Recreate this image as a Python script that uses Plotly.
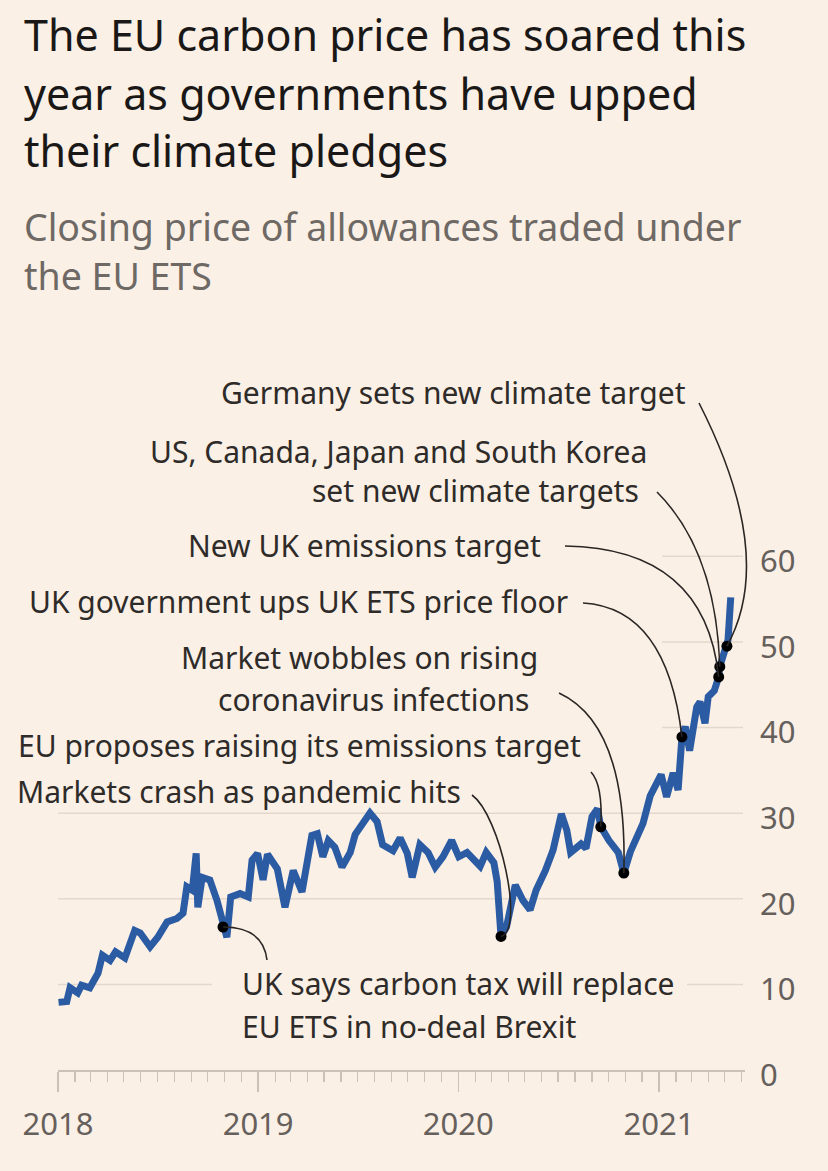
import plotly.graph_objects as go
import pandas as pd

# ---------------- data ----------------
dates = [
    "2018-01-02", "2018-01-17", "2018-01-23", "2018-02-06", "2018-02-13", "2018-02-28",
    "2018-03-15", "2018-03-23", "2018-04-06", "2018-04-16", "2018-05-03", "2018-05-21",
    "2018-05-31", "2018-06-18", "2018-07-02", "2018-07-19", "2018-08-06", "2018-08-17",
    "2018-08-24", "2018-09-03", "2018-09-10", "2018-09-13", "2018-09-21", "2018-10-05",
    "2018-10-18", "2018-10-29", "2018-11-05", "2018-11-12", "2018-11-29", "2018-12-14",
    "2018-12-21", "2018-12-31", "2019-01-10", "2019-01-18", "2019-02-05", "2019-02-19",
    "2019-03-06", "2019-03-22", "2019-04-09", "2019-04-19", "2019-04-29", "2019-05-09",
    "2019-05-21", "2019-06-03", "2019-06-18", "2019-06-27", "2019-07-11", "2019-07-24",
    "2019-08-06", "2019-08-16", "2019-09-04", "2019-09-17", "2019-09-30", "2019-10-09",
    "2019-10-23", "2019-11-07", "2019-11-20", "2019-12-04", "2019-12-20", "2020-01-02",
    "2020-01-17", "2020-02-10", "2020-02-21", "2020-03-06", "2020-03-12", "2020-03-19",
    "2020-03-29", "2020-04-14", "2020-04-28", "2020-05-11", "2020-05-22", "2020-06-08",
    "2020-06-22", "2020-07-07", "2020-07-17", "2020-07-24", "2020-08-12", "2020-08-21",
    "2020-09-01", "2020-09-11", "2020-09-17", "2020-10-02", "2020-10-19", "2020-10-29",
    "2020-11-10", "2020-11-27", "2020-12-03", "2020-12-16", "2021-01-05", "2021-01-15",
    "2021-01-27", "2021-02-05", "2021-02-12", "2021-02-18", "2021-02-26", "2021-03-11",
    "2021-03-17", "2021-03-26", "2021-04-01", "2021-04-12", "2021-04-20", "2021-04-22",
    "2021-05-05", "2021-05-07", "2021-05-12",
]
prices = [
    7.9, 8.0, 9.6, 9.0, 9.9, 9.6,
    11.3, 13.4, 12.8, 13.8, 13.1, 16.3,
    16.0, 14.4, 15.5, 17.3, 17.7, 18.3,
    21.4, 21.0, 25.3, 19.0, 22.5, 22.2,
    19.8, 16.7, 15.5, 20.2, 20.6, 20.2,
    24.5, 25.3, 22.2, 25.2, 23.5, 19.0,
    23.3, 20.8, 27.4, 27.6, 24.9, 26.8,
    26.0, 23.7, 25.4, 27.5, 28.8, 30.0,
    29.0, 26.3, 25.6, 27.1, 25.3, 22.5,
    26.3, 25.4, 23.7, 24.9, 26.8, 24.9,
    25.4, 23.8, 25.4, 24.2, 22.0, 15.6,
    16.7, 21.6, 19.8, 18.7, 21.0, 23.3,
    25.7, 29.9, 28.0, 25.4, 26.4, 25.9,
    29.6, 30.5, 28.4, 26.8, 25.4, 23.0,
    25.5, 27.8, 28.8, 32.0, 34.5, 31.9,
    34.7, 32.7, 38.9, 40.1, 37.3, 42.4,
    43.0, 40.5, 43.6, 44.3, 45.9, 47.1,
    49.5, 50.2, 55.2,
]

event_dates = [
    "2018-10-29",  # UK carbon tax
    "2020-03-19",  # pandemic crash
    "2020-09-17",  # EU proposes target
    "2020-10-29",  # market wobbles
    "2021-02-12",  # UK ETS floor
    "2021-04-20",  # new UK emissions target
    "2021-04-22",  # US, Canada, Japan, South Korea
    "2021-05-05",  # Germany
]

y_tick_values = [0, 10, 20, 30, 40, 50, 60]
x_tick_labels = ["2018", "2019", "2020", "2021"]

title_lines = ["The EU carbon price has soared this",
               "year as governments have upped",
               "their climate pledges"]
subtitle_lines = ["Closing price of allowances traded under", "the EU ETS"]

# ---------------- layout geometry ----------------
W, H = 828, 1171
L, R, T, B = 58, 745, 385, 1070
X0, X1 = pd.Timestamp("2018-01-01"), pd.Timestamp("2021-06-07")
Y0, Y1 = 0, 80

BG = "#FBF0E6"
LINE = "#2B5BA3"
TXT = "#2E2B29"
GRID = "#E4D8CD"
AXIS = "#CCC1B7"
FONT = "Noto Sans"

series = pd.Series(prices, index=pd.to_datetime(dates))
ev_x = pd.to_datetime(event_dates)
ev_y = [series[d] for d in ev_x]


def ppx(px):
    return (px - L) / (R - L)


def ppy(py):
    return (B - py) / (B - T)


def dpx(d):
    return (pd.Timestamp(d) - X0) / (X1 - X0)


def dpy(v):
    return (v - Y0) / (Y1 - Y0)


fig = go.Figure()

fig.add_trace(go.Scatter(
    x=series.index, y=series.values, mode="lines",
    line=dict(color=LINE, width=7, shape="linear"),
    hoverinfo="skip", showlegend=False,
))

fig.add_trace(go.Scatter(
    x=ev_x, y=ev_y, mode="markers",
    marker=dict(color="#000000", size=11),
    cliponaxis=False, hoverinfo="skip", showlegend=False,
))

shapes = []
# gridlines (partly hidden behind annotation blocks, as in the original)
grid_spans = {
    10: [(L, 212), (687, 743)],
    20: [(L, 743)],
    30: [(L, 743)],
    40: [(662, 743)],
    50: [(662, 743)],
    60: [(662, 743)],
}
for v, spans in grid_spans.items():
    for a, b in spans:
        shapes.append(dict(type="line", xref="paper", yref="paper",
                           x0=ppx(a), x1=ppx(b), y0=dpy(v), y1=dpy(v),
                           line=dict(color=GRID, width=1.5), layer="below"))

# connectors: (start px, control points px, event index)
connectors = [
    ((699, 403), [(777, 556)], 7),
    ((657, 492), [(716, 551)], 6),
    ((565, 546), [(705, 548)], 5),
    ((583, 603), [(667, 608)], 4),
    ((559, 693), [(628, 725)], 3),
    ((591, 772), [(603, 785)], 2),
    ((472, 795), [(500, 815), (525, 930)], 1),
    ((267, 960), [(263, 927)], 0),
]
for (sx, sy), ctrls, i in connectors:
    ex, ey = dpx(ev_x[i]), dpy(ev_y[i])
    cmd = "Q" if len(ctrls) == 1 else "C"
    pts = " ".join(f"{ppx(cx):.5f},{ppy(cy):.5f}" for cx, cy in ctrls)
    path = f"M {ppx(sx):.5f},{ppy(sy):.5f} {cmd} {pts} {ex:.5f},{ey:.5f}"
    shapes.append(dict(type="path", xref="paper", yref="paper", path=path,
                       line=dict(color="#2a2624", width=1.6)))

annotations = []


def label(text, px, py, anchor, size=30, color=TXT, align="left"):
    annotations.append(dict(text=text, x=ppx(px), y=ppy(py), xref="paper", yref="paper",
                            xanchor=anchor, yanchor="middle", showarrow=False, align=align,
                            font=dict(family=FONT, size=size, color=color)))


label("Germany sets new climate target", 688, 392, "right")
label("US, Canada, Japan and South Korea", 649, 451, "right")
label("set new climate targets", 641, 490, "right")
label("New UK emissions target", 543, 545, "right")
label("UK government ups UK ETS price floor", 570, 601, "right")
label("Market wobbles on rising", 540, 657, "right")
label("coronavirus infections", 532, 699, "right")
label("EU proposes raising its emissions target", 583, 745, "right")
label("Markets crash as pandemic hits", 463, 791, "right")
label("UK says carbon tax will replace", 240, 983, "left")
label("EU ETS in no-deal Brexit", 240, 1026, "left")

for text, py in zip(title_lines, [35, 93, 150]):
    label(text, 22, py, "left", size=43, color="#1A1817")
# subtitle as one two-line block
label("<br>".join(subtitle_lines), 22, 251, "left", size=37.5, color="#6E6964")

fig.update_layout(
    width=W, height=H,
    margin=dict(l=L, r=W - R, t=T, b=H - B, pad=0),
    paper_bgcolor=BG, plot_bgcolor=BG,
    shapes=shapes, annotations=annotations,
    showlegend=False,
    font=dict(family=FONT, color=TXT),
)

fig.update_xaxes(
    type="date", range=[X0, X1],
    tickvals=pd.to_datetime([f"{y}-01-01" for y in x_tick_labels]),
    ticktext=x_tick_labels,
    ticks="outside", ticklen=20, tickwidth=1.5, tickcolor=AXIS,
    minor=dict(dtick="M1", tick0="2018-01-01", ticks="outside", ticklen=10,
               tickwidth=1.2, tickcolor=AXIS, showgrid=False),
    showline=True, linecolor=AXIS, linewidth=1.5,
    showgrid=False, zeroline=False,
    tickfont=dict(family=FONT, size=31, color="#66605C"),
    ticklabelstandoff=6,
)
fig.update_yaxes(
    range=[Y0, Y1], side="right",
    tickvals=y_tick_values, ticktext=[str(v) for v in y_tick_values],
    showgrid=False, zeroline=False, showline=False, ticks="",
    tickfont=dict(family=FONT, size=31, color="#66605C"),
    ticklabelstandoff=14, ticklabelshift=5,
)

fig.write_html("out.html", config={"displayModeBar": False, "staticPlot": True})

# remove the browser's default page margin so the figure fills the window exactly
with open("out.html", encoding="utf-8") as f:
    html = f.read()
html = html.replace("<body>", '<body style="margin:0;padding:0;overflow:hidden;">', 1)
with open("out.html", "w", encoding="utf-8") as f:
    f.write(html)
